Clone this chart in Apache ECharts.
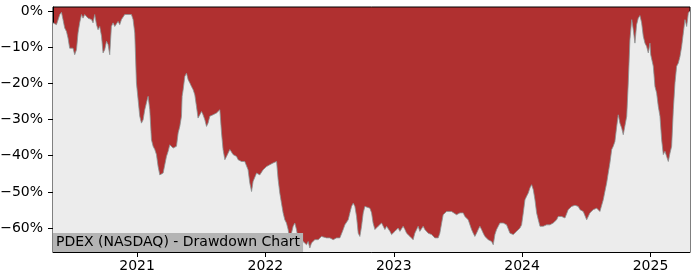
<!DOCTYPE html>
<html><head><meta charset="utf-8">
<script src="https://cdn.jsdelivr.net/npm/echarts@6/dist/echarts.min.js"></script>
<style>html,body{margin:0;padding:0;background:#fff}#c{width:700px;height:280px}</style>
</head><body><div id="c"></div>
<script>
const chartTitle = 'PDEX (NASDAQ) - Drawdown Chart';
const yearTicks = [2021, 2022, 2023, 2024, 2025];
const pctTicks = [0, -10, -20, -30, -40, -50, -60];

// x positions as decimal years
const years = [
2020.345,2020.372,2020.398,2020.411,2020.423,2020.436,2020.450,2020.462,2020.475,2020.489,
2020.501,2020.514,2020.528,2020.540,2020.553,2020.567,2020.579,2020.592,2020.606,2020.618,
2020.631,2020.645,2020.657,2020.670,2020.684,2020.696,2020.709,2020.723,2020.735,2020.748,
2020.762,2020.774,2020.787,2020.800,2020.813,2020.826,2020.839,2020.852,2020.865,2020.878,
2020.891,2020.904,2020.917,2020.930,2020.943,2020.956,2020.969,2020.982,2020.995,2021.008,
2021.021,2021.034,2021.047,2021.060,2021.073,2021.086,2021.099,2021.112,2021.125,2021.138,
2021.151,2021.164,2021.177,2021.190,2021.203,2021.216,2021.229,2021.242,2021.255,2021.268,
2021.281,2021.294,2021.307,2021.320,2021.333,2021.346,2021.351,2021.359,2021.372,2021.385,
2021.398,2021.411,2021.424,2021.437,2021.450,2021.463,2021.475,2021.489,2021.502,2021.514,
2021.528,2021.541,2021.553,2021.567,2021.580,2021.592,2021.606,2021.619,2021.631,2021.645,
2021.658,2021.670,2021.684,2021.697,2021.709,2021.723,2021.736,2021.748,2021.762,2021.775,
2021.787,2021.800,2021.814,2021.826,2021.839,2021.853,2021.865,2021.878,2021.892,2021.904,
2021.917,2021.931,2021.943,2021.956,2021.982,2022.009,2022.034,2022.060,2022.073,2022.087,
2022.099,2022.112,2022.125,2022.138,2022.151,2022.164,2022.177,2022.190,2022.203,2022.216,
2022.229,2022.242,2022.255,2022.268,2022.281,2022.294,2022.307,2022.320,2022.333,2022.346,
2022.359,2022.372,2022.385,2022.398,2022.411,2022.424,2022.437,2022.450,2022.476,2022.502,
2022.528,2022.554,2022.580,2022.593,2022.606,2022.619,2022.632,2022.645,2022.658,2022.671,
2022.684,2022.697,2022.710,2022.723,2022.736,2022.749,2022.762,2022.775,2022.788,2022.814,
2022.827,2022.839,2022.853,2022.878,2022.892,2022.905,2022.917,2022.931,2022.944,2022.956,
2022.970,2022.983,2022.995,2023.009,2023.022,2023.034,2023.048,2023.061,2023.073,2023.087,
2023.100,2023.112,2023.126,2023.139,2023.151,2023.164,2023.178,2023.190,2023.203,2023.217,
2023.229,2023.242,2023.256,2023.268,2023.281,2023.295,2023.307,2023.320,2023.334,2023.346,
2023.359,2023.373,2023.385,2023.398,2023.412,2023.424,2023.450,2023.463,2023.489,2023.515,
2023.541,2023.554,2023.567,2023.580,2023.593,2023.606,2023.619,2023.632,2023.645,2023.658,
2023.671,2023.684,2023.697,2023.710,2023.723,2023.736,2023.749,2023.762,2023.775,2023.788,
2023.801,2023.814,2023.827,2023.840,2023.853,2023.866,2023.879,2023.892,2023.905,2023.918,
2023.931,2023.944,2023.957,2023.970,2023.983,2023.996,2024.009,2024.022,2024.035,2024.048,
2024.061,2024.074,2024.087,2024.100,2024.113,2024.126,2024.139,2024.152,2024.164,2024.178,
2024.191,2024.203,2024.217,2024.230,2024.242,2024.256,2024.269,2024.281,2024.295,2024.308,
2024.320,2024.334,2024.347,2024.359,2024.373,2024.386,2024.398,2024.412,2024.425,2024.437,
2024.451,2024.476,2024.503,2024.515,2024.528,2024.554,2024.581,2024.593,2024.606,2024.620,
2024.632,2024.645,2024.659,2024.671,2024.684,2024.698,2024.710,2024.723,2024.737,2024.749,
2024.762,2024.776,2024.788,2024.801,2024.815,2024.827,2024.840,2024.854,2024.866,2024.879,
2024.892,2024.905,2024.918,2024.931,2024.944,2024.957,2024.970,2024.983,2024.996,2025.002,
2025.009,2025.022,2025.035,2025.048,2025.061,2025.074,2025.087,2025.100,2025.113,2025.126,
2025.139,2025.152,2025.165,2025.178,2025.191,2025.204,2025.217,2025.230,2025.243,2025.256,
2025.269,2025.282,2025.295,2025.308
];

// drawdown in percent
const drawdown = [
-3.3,-3.8,-1.0,-0.4,-2.4,-4.7,-5.7,-7.5,-10.3,-10.7,
-10.3,-12.1,-10.7,-6.1,-3.3,-1.0,-2.0,-1.0,-1.5,-2.0,
-1.5,-2.4,-3.3,-1.0,-3.8,-5.2,-4.3,-7.0,-11.6,-10.7,
-8.4,-9.3,-12.1,-4.3,-3.3,-4.3,-3.8,-2.9,-3.8,-2.4,
-2.0,-1.0,-0.8,-1.0,-0.8,-1.0,-2.4,-6.1,-19.9,-24.5,
-29.1,-31.0,-30.1,-27.3,-25.4,-23.6,-27.3,-35.6,-37.4,-38.3,
-39.7,-43.0,-45.3,-44.8,-44.8,-44.3,-40.2,-38.8,-37.0,-37.4,
-37.9,-38.3,-37.4,-33.7,-31.9,-29.1,-23.6,-21.8,-18.1,-17.2,
-19.0,-19.9,-20.9,-21.8,-23.2,-26.4,-29.6,-28.7,-27.8,-28.7,
-30.1,-31.9,-31.0,-29.1,-29.1,-28.7,-28.7,-28.2,-28.2,-27.3,
-33.7,-38.3,-41.1,-40.2,-39.3,-38.3,-38.8,-39.7,-40.2,-40.2,
-41.1,-40.6,-41.6,-41.1,-41.6,-42.0,-43.9,-47.5,-49.9,-47.1,
-46.6,-44.8,-45.3,-45.3,-43.9,-43.0,-42.5,-42.0,-42.5,-41.6,
-46.6,-50.3,-53.1,-55.8,-57.7,-58.6,-60.4,-63.2,-61.4,-59.5,
-58.6,-60.4,-63.2,-64.1,-65.1,-63.7,-64.1,-64.6,-63.7,-65.5,
-64.1,-63.7,-63.2,-62.7,-63.2,-62.7,-62.3,-62.7,-62.7,-62.7,
-63.2,-62.7,-62.7,-62.3,-60.4,-59.1,-58.6,-57.7,-55.8,-54.0,
-53.1,-54.0,-56.8,-61.4,-62.3,-59.5,-55.8,-54.0,-54.0,-54.5,
-55.8,-58.6,-60.4,-59.5,-60.0,-58.6,-59.1,-60.4,-59.5,-60.0,
-60.9,-61.8,-62.3,-60.9,-60.4,-60.0,-60.9,-60.4,-59.5,-60.4,
-61.4,-61.8,-62.3,-62.7,-63.2,-61.4,-60.9,-59.5,-60.9,-60.4,
-59.5,-60.4,-60.9,-61.4,-61.4,-61.8,-62.3,-62.7,-63.2,-62.7,
-61.4,-58.6,-56.3,-55.8,-55.4,-55.4,-55.4,-55.8,-56.3,-55.8,
-55.8,-56.8,-57.2,-57.7,-58.2,-60.4,-61.4,-62.3,-61.4,-60.4,
-59.5,-60.4,-61.4,-62.3,-62.7,-63.2,-63.7,-63.7,-64.6,-61.8,
-60.4,-59.5,-58.6,-58.2,-58.6,-58.2,-59.1,-59.5,-61.4,-61.8,
-61.8,-61.4,-60.9,-60.4,-60.0,-59.1,-55.8,-52.2,-51.2,-50.3,
-48.9,-48.0,-49.4,-52.2,-55.8,-57.7,-59.5,-60.0,-59.5,-59.5,
-59.1,-59.5,-59.1,-59.1,-58.6,-58.2,-57.7,-56.8,-56.3,-56.8,
-56.3,-57.2,-56.8,-54.9,-54.5,-54.0,-54.0,-53.7,-54.0,-54.0,
-54.9,-55.4,-57.7,-58.2,-55.8,-54.9,-54.5,-54.0,-55.4,-54.9,
-52.2,-49.9,-47.5,-44.8,-42.0,-38.3,-37.4,-36.1,-31.9,-28.7,
-31.0,-32.4,-34.2,-33.7,-29.1,-19.9,-8.0,-2.4,-5.2,-8.9,
-3.8,-2.0,-1.3,-3.3,-7.0,-8.9,-9.8,-11.6,-8.9,-12.1,
-12.6,-15.3,-20.9,-22.7,-26.4,-29.1,-35.6,-39.7,-38.8,-40.2,
-41.6,-39.3,-37.4,-27.3,-19.9,-15.3,-14.4,-12.6,-9.8,-6.1,
-2.4,-4.3,-0.6,0
];

const n = Math.min(years.length, drawdown.length);
const seriesData = [];
for (let i = 0; i < n; i++) seriesData.push([years[i], drawdown[i]]);

const FONT = 'DejaVu Sans';
const chart = echarts.init(document.getElementById('c'), null, { renderer: 'canvas' });
chart.setOption({
  animation: false,
  title: {
    text: chartTitle,
    left: 53,
    bottom: 28,
    backgroundColor: '#b4b4b4',
    padding: [2, 3, 2, 3],
    textStyle: { fontFamily: FONT, fontSize: 14, fontWeight: 'normal', color: '#000', lineHeight: 15 }
  },
  grid: {
    left: 53, right: 10, top: 7, bottom: 28,
    outerBoundsMode: 'none',
    containLabel: false,
    show: true, backgroundColor: '#b03030', borderColor: '#000', borderWidth: 1
  },
  xAxis: {
    type: 'value',
    min: 2020.345, max: 2025.308,
    axisLine: { show: true, onZero: false, lineStyle: { color: '#000', width: 1 } },
    axisTick: { show: true, customValues: yearTicks, length: 5, lineStyle: { color: '#000' } },
    axisLabel: { customValues: yearTicks, formatter: v => String(Math.round(v)), color: '#000', fontFamily: FONT, fontSize: 14, margin: 7 },
    splitLine: { show: false }
  },
  yAxis: {
    type: 'value',
    min: -66.6, max: 1.08,
    axisLine: { show: true, onZero: false, lineStyle: { color: '#000', width: 1 } },
    axisTick: { show: true, customValues: pctTicks, length: 5, lineStyle: { color: '#000' } },
    axisLabel: {
      customValues: pctTicks,
      formatter: v => (v < 0 ? '\u2212' + Math.abs(v) : String(v)) + '%',
      color: '#000', fontFamily: FONT, fontSize: 14, margin: 10
    },
    splitLine: { show: false }
  },
  series: [{
    type: 'line',
    data: seriesData,
    showSymbol: false,
    symbol: 'none',
    lineStyle: { color: '#8a9494', width: 0.8 },
    areaStyle: { color: '#ececec', origin: 'start', opacity: 1 },
    clip: true
  }]
});
</script>
</body></html>
